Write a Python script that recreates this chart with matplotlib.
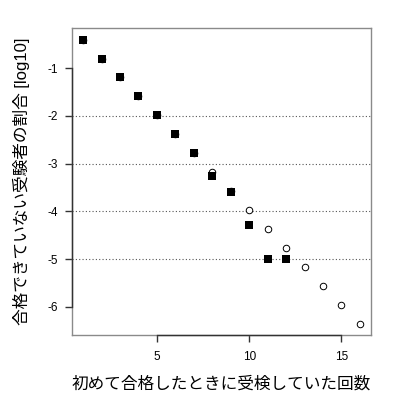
import matplotlib
matplotlib.use('Agg')
import matplotlib.pyplot as plt
import numpy as np

plt.rcParams['font.family'] = ['Liberation Sans', 'Noto Sans CJK JP', 'DejaVu Sans']

# observed share of examinees not yet passed (log10)
x_obs = [1, 2, 3, 4, 5, 6, 7, 8, 9, 10, 11, 12]
y_obs = [-0.40, -0.80, -1.19, -1.59, -1.98, -2.38, -2.78, -3.25, -3.60, -4.29, -5.00, -5.00]

# model values
x_model = [1, 2, 3, 4, 5, 6, 7, 8, 9, 10, 11, 12, 13, 14, 15, 16]
y_model = [-0.40, -0.80, -1.19, -1.59, -1.99, -2.38, -2.78, -3.18, -3.57,
           -3.97, -4.37, -4.77, -5.16, -5.56, -5.96, -6.35]

x_ticks = [5, 10, 15]
y_ticks = [-1, -2, -3, -4, -5, -6]
grid_levels = [-2, -3, -4, -5]

fig = plt.figure(figsize=(4, 4), dpi=100)
ax = fig.add_axes([0.18, 0.1625, 0.7475, 0.7675])

for g in grid_levels:
    ax.axhline(g, color='#555555', linestyle=(0, (1, 2)), linewidth=0.8, zorder=1)

ax.scatter(x_model, y_model, marker='o', s=22, facecolors='white',
           edgecolors='black', linewidths=0.7, zorder=2)
ax.scatter(x_obs, y_obs, marker='s', s=28, color='black', linewidths=0, zorder=3)

ax.set_xlim(0.4, 16.6)
ax.set_ylim(-6.59, -0.159)
ax.set_xticks(x_ticks)
ax.set_yticks(y_ticks)
ax.set_yticklabels([str(t) for t in y_ticks])

for s in ax.spines.values():
    s.set_color('#8a8a8a')
    s.set_linewidth(1.0)

# R-style axis lines spanning first to last tick
ax.plot([x_ticks[0], x_ticks[-1]], [-6.59, -6.59], color='#333333', lw=1.0,
        clip_on=False, zorder=4)
ax.plot([0.4, 0.4], [y_ticks[0], y_ticks[-1]], color='#333333', lw=1.0,
        clip_on=False, zorder=4)

ax.tick_params(axis='both', length=5, width=1.0, color='#333333',
               labelsize=8.5, direction='out')
ax.tick_params(axis='x', pad=6.5)
ax.tick_params(axis='y', pad=5)

ax.set_xlabel('初めて合格したときに受検していた回数', fontsize=12, labelpad=9.5)
ax.set_ylabel('合格できていない受験者の割合 [log10]', fontsize=12, labelpad=13)

fig.savefig('out.png', dpi=100)
